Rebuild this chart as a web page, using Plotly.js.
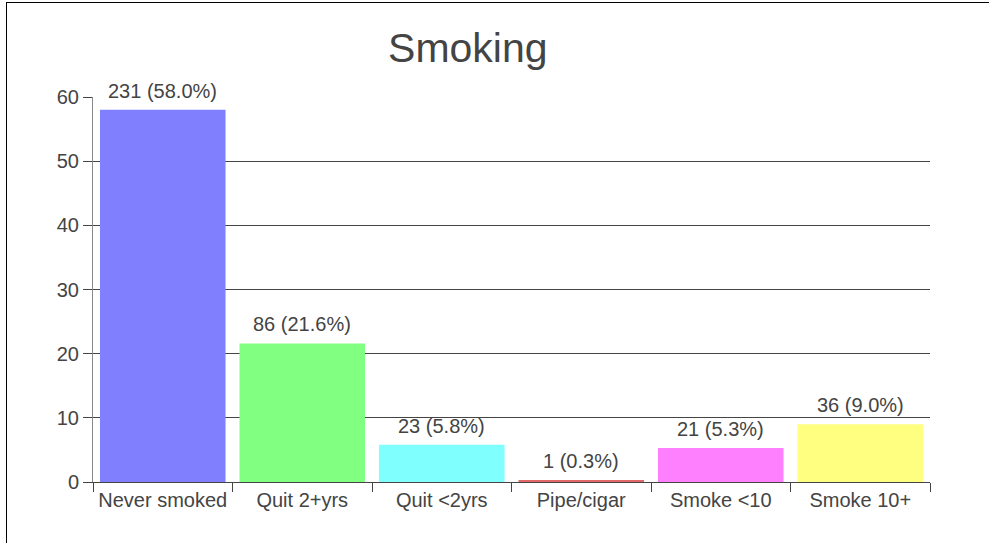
<!DOCTYPE html>
<html><head><meta charset="utf-8">
<script src="https://cdn.plot.ly/plotly-3.0.1.min.js"></script>
<style>
html,body{margin:0;padding:0;background:#fff;}
#wrap{position:relative;width:989px;height:543px;overflow:hidden;}
#chart{position:absolute;left:0;top:0;width:989px;height:543px;}
#frame{position:absolute;left:6px;top:2px;width:1200px;height:800px;border-left:1px solid #000;border-top:1px solid #000;pointer-events:none;}
</style></head>
<body><div id="wrap"><div id="chart"></div><div id="frame"></div></div>
<script>
const categories = ["Never smoked","Quit 2+yrs","Quit <2yrs","Pipe/cigar","Smoke <10","Smoke 10+"];
const counts = [231, 86, 23, 1, 21, 36];
const percents = [58.0, 21.6, 5.8, 0.3, 5.3, 9.0];
const colors = ["#8080ff","#80ff80","#80ffff","#e06868","#ff80ff","#ffff80"];
const labels = counts.map((c,i)=> c + " (" + percents[i].toFixed(1) + "%)");

const F = "Liberation Sans";
const TXT = "#444";
const trace = {
  type:"bar", x:categories, y:percents,
  marker:{color:colors, line:{width:0}}, cliponaxis:false, hoverinfo:"none"
};
const annotations = categories.map((c,i)=>({
  x:c, y:percents[i], xref:"x", yref:"y", text:labels[i], showarrow:false,
  yanchor:"bottom", xanchor:"center", yshift:6,
  font:{family:F, size:20, color:TXT}
}));
const layout = {
  width:989, height:543,
  margin:{l:93, r:59, t:97, b:61, pad:0},
  paper_bgcolor:"#fff", plot_bgcolor:"#fff",
  font:{family:F, size:20, color:TXT},
  title:{text:"Smoking", x:0.473, xanchor:"center", y:0.913, yanchor:"middle", font:{family:F, size:41, color:TXT}},
  bargap:0.1,
  showlegend:false,
  annotations:annotations,
  xaxis:{type:"category", tickson:"boundaries", ticks:"outside", ticklen:9, tickcolor:"#444",
    showline:true, linecolor:"#444", linewidth:1, showgrid:false, tickfont:{family:F, size:20, color:TXT}},
  yaxis:{range:[0,60], dtick:10, ticks:"outside", ticklen:9, tickcolor:"#444",
    showline:true, linecolor:"#888", showgrid:true, gridcolor:"#444", gridwidth:1,
    zeroline:false, tickfont:{family:F, size:20, color:TXT}}
};
Plotly.newPlot("chart",[trace],layout,{staticPlot:true});
</script></body></html>
